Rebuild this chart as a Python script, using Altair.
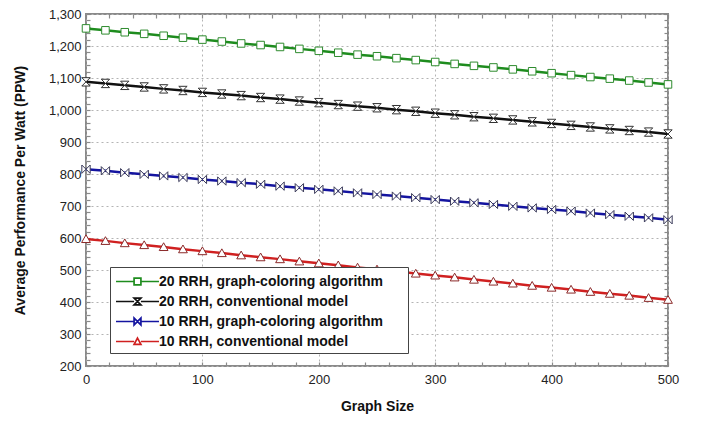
import altair as alt
import pandas as pd

# ---- data ----
graph_size = [0, 16.7, 33.3, 50, 66.7, 83.3, 100, 116.7, 133.3, 150, 166.7,
              183.3, 200, 216.7, 233.3, 250, 266.7, 283.3, 300, 316.7, 333.3,
              350, 366.7, 383.3, 400, 416.7, 433.3, 450, 466.7, 483.3, 500]

rrh20_graph = [1255, 1249, 1243, 1238, 1232, 1226, 1220, 1214, 1208, 1203, 1197,
               1191, 1185, 1179, 1173, 1168, 1162, 1156, 1150, 1144, 1138,
               1133, 1127, 1121, 1115, 1109, 1103, 1098, 1092, 1086, 1080]
rrh20_conv = [1088, 1083, 1077, 1072, 1066, 1061, 1055, 1050, 1045, 1039, 1034,
              1028, 1023, 1017, 1012, 1007, 1001, 996, 990, 985, 979,
              974, 969, 963, 958, 952, 947, 941, 936, 931, 925]
rrh10_graph = [815, 810, 804, 799, 794, 789, 783, 778, 773, 768, 762,
               757, 752, 747, 741, 736, 731, 726, 720, 715, 710,
               705, 699, 694, 689, 684, 678, 673, 668, 663, 657]
rrh10_conv = [597, 591, 584, 578, 572, 565, 559, 553, 546, 540, 534,
              527, 521, 515, 508, 502, 496, 489, 483, 477, 470,
              464, 458, 451, 445, 439, 432, 426, 420, 413, 407]

series_names = ["20 RRH, graph-coloring algorithm",
                "20 RRH, conventional model",
                "10 RRH, graph-coloring algorithm",
                "10 RRH, conventional model"]
series_values = [rrh20_graph, rrh20_conv, rrh10_graph, rrh10_conv]

x_ticks = list(range(0, 501, 20))
y_ticks = list(range(200, 1301, 20))
x_grid = list(range(0, 501, 100))
y_grid = list(range(200, 1301, 100))

# ---- styles ----
line_colors = ["#1e8c1e", "#111111", "#1414a0", "#d02020"]
marker_strokes = ["#2e8b2e", "#333333", "#3a3a5a", "#8b2a2a"]
marker_paths = [
    "M-0.9,-0.9H0.9V0.9H-0.9Z",                 # square
    "M-1,-1L1,-1L-1,1L1,1Z",                    # hourglass
    "M-1,-1L-1,1L1,-1L1,1Z",                    # bow-tie
    "M0,-1L1.05,0.85L-1.05,0.85Z",              # triangle
]
s = 0.36
L = 2.26
legend_paths = [
    f"M{-L},0H{-s}M{s},0H{L}M{-s},{-s}H{s}V{s}H{-s}Z",
    f"M{-L},0H{-s}M{s},0H{L}M{-s},{-s}L{s},{-s}L{-s},{s}L{s},{s}Z",
    f"M{-L},0H{-s}M{s},0H{L}M{-s},{-s}L{-s},{s}L{s},{-s}L{s},{s}Z",
    f"M{-L},0H{-s}M{s},0H{L}M0,{-s}L{s},{s*0.85}L{-s},{s*0.85}Z",
]

rows = []
for name, vals in zip(series_names, series_values):
    for xv, yv in zip(graph_size, vals):
        rows.append({"x": xv, "y": yv, "series": name})
df = pd.DataFrame(rows)

frame_gray = "#8a8a8a"
xs = alt.Scale(domain=[0, 500], nice=False, zero=False)
ys = alt.Scale(domain=[200, 1300], nice=False, zero=False)

x_main = alt.Axis(orient="bottom", values=x_ticks,
                  labelExpr="datum.value % 100 === 0 ? format(datum.value, 'd') : ''",
                  offset=-4, tickSize=4, tickColor=frame_gray, tickWidth=1.2,
                  domain=False, grid=False, labelPadding=7, labelFlush=False,
                  labelOverlap=False, title="Graph Size", titlePadding=13)
y_main = alt.Axis(orient="left", values=y_ticks,
                  labelExpr="datum.value % 100 === 0 ? format(datum.value, ',') : ''",
                  offset=-4, tickSize=4, tickColor=frame_gray, tickWidth=1.2,
                  domain=False, grid=False, labelPadding=5, labelFlush=False,
                  labelOverlap=False, title="Average Performance Per Watt (PPW)",
                  titlePadding=21)
x_gridaxis = alt.Axis(orient="bottom", values=x_grid, labels=False, ticks=False,
                      domain=False, grid=True, gridColor="#b4b4b4", gridDash=[2, 3],
                      gridWidth=1, title=None)
y_gridaxis = alt.Axis(orient="left", values=y_grid, labels=False, ticks=False,
                      domain=False, grid=True, gridColor="#b4b4b4", gridDash=[2, 3],
                      gridWidth=1, title=None)
x_top = alt.Axis(orient="top", values=x_ticks, labels=False, domain=False, grid=False,
                 offset=-4, tickSize=4, tickColor=frame_gray, tickWidth=1.2, title=None)
y_right = alt.Axis(orient="right", values=y_ticks, labels=False, domain=False, grid=False,
                   offset=-4, tickSize=4, tickColor=frame_gray, tickWidth=1.2, title=None)

gridlayer = alt.Chart(df).transform_filter(alt.datum.y < 0).mark_point().encode(
    x=alt.X("x:Q", scale=xs, axis=x_gridaxis),
    y=alt.Y("y:Q", scale=ys, axis=y_gridaxis),
)

lines = alt.Chart(df).mark_line(strokeWidth=2.5).encode(
    x=alt.X("x:Q", scale=xs, axis=x_main),
    y=alt.Y("y:Q", scale=ys, axis=y_main),
    color=alt.Color("series:N", scale=alt.Scale(domain=series_names, range=line_colors),
                    legend=None),
    detail="series:N",
)

points = alt.Chart(df).mark_point(filled=True, fill="white", size=70, strokeWidth=1,
                                  opacity=1).encode(
    x=alt.X("x:Q", scale=xs, axis=None),
    y=alt.Y("y:Q", scale=ys, axis=None),
    shape=alt.Shape("series:N", scale=alt.Scale(domain=series_names, range=marker_paths),
                    legend=None),
    stroke=alt.Stroke("series:N", scale=alt.Scale(domain=series_names, range=marker_strokes),
                      legend=None),
)

pad_chars = "\u2800" * 2
leg = alt.Legend(orient="none", legendX=24, legendY=253, title=None,
                 symbolSize=361, symbolStrokeWidth=1.7, symbolOffset=13,
                 labelOffset=11, symbolFillColor="white",
                 labelFont="Liberation Sans", labelFontSize=14, labelFontWeight="bold",
                 labelColor="#111", labelLimit=400,
                 labelExpr=f"datum.label + '{pad_chars}'",
                 padding=4, rowPadding=2, strokeColor="#444", fillColor="white",
                 cornerRadius=0)

legend_layer = alt.Chart(df).transform_filter(alt.datum.y < 0).mark_point(
    filled=True, fill="white", opacity=1).encode(
    x=alt.X("x:Q", scale=xs, axis=x_top),
    y=alt.Y("y:Q", scale=ys, axis=y_right),
    shape=alt.Shape("series:N", scale=alt.Scale(domain=series_names, range=legend_paths),
                    legend=leg, sort=series_names),
    stroke=alt.Stroke("series:N", scale=alt.Scale(domain=series_names, range=line_colors),
                      legend=leg, sort=series_names),
)

chart = alt.layer(gridlayer, lines, points, legend_layer).resolve_scale(
    shape="independent", stroke="independent"
).resolve_axis(x="independent", y="independent").properties(
    width=582, height=352,
    autosize=alt.AutoSizeParams(type="none"),
    padding={"left": 78, "top": 6, "right": 31, "bottom": 50},
).configure_view(stroke=frame_gray, strokeWidth=2).configure_axis(
    labelFont="Liberation Sans", labelFontSize=13, labelColor="#222",
    titleFont="Liberation Sans", titleFontSize=14, titleFontWeight="bold",
    titleColor="#111",
)

chart.save("out.html", embed_options={"renderer": "svg", "actions": False})
